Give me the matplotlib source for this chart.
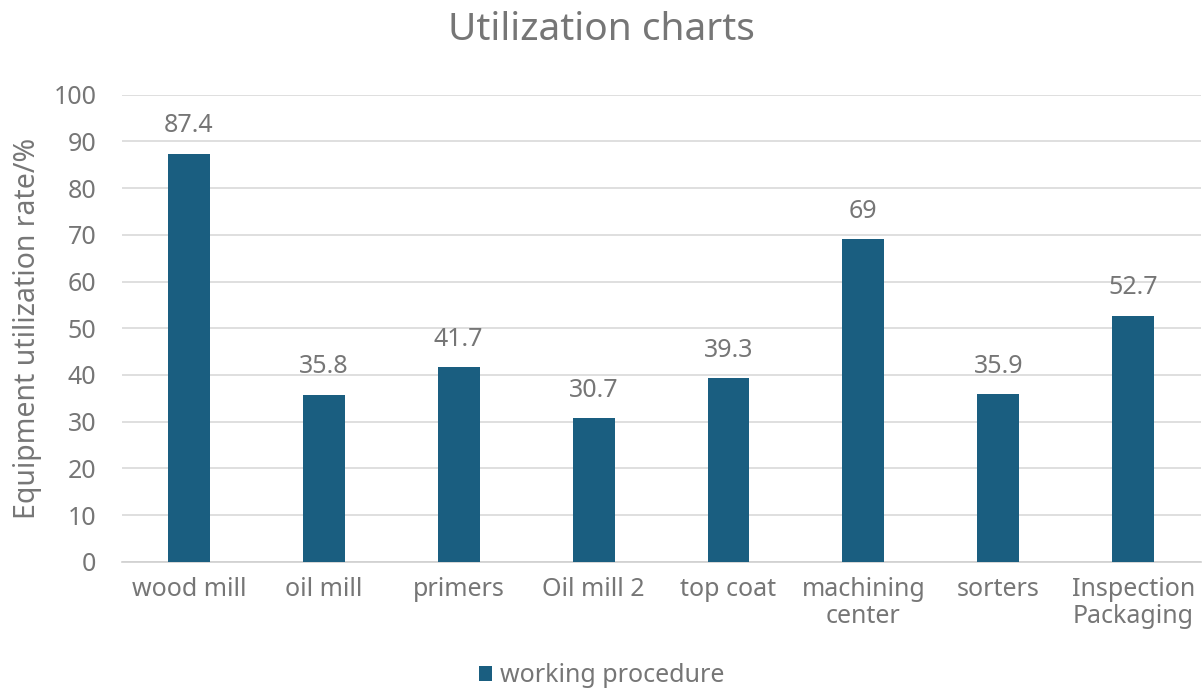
import matplotlib.pyplot as plt

categories = ["wood mill", "oil mill", "primers", "Oil mill 2", "top coat",
              "machining\ncenter", "sorters", "Inspection\nPackaging"]
values = [87.4, 35.8, 41.7, 30.7, 39.3, 69, 35.9, 52.7]
value_labels = ["87.4", "35.8", "41.7", "30.7", "39.3", "69", "35.9", "52.7"]

plt.rcParams['font.family'] = ['Noto Sans', 'DejaVu Sans']
text_color = "#767676"
bar_color = "#1a5e80"

fig = plt.figure(figsize=(12.03, 6.91), dpi=100)
ax = fig.add_axes([0.101, 0.187, 0.897, 0.676])

x = range(len(categories))
bars = ax.bar(x, values, width=0.31, color=bar_color, label="working procedure", zorder=3)
for b, lab in zip(bars, value_labels):
    ax.annotate(lab, (b.get_x() + b.get_width() / 2, b.get_height()),
                xytext=(0, 11), textcoords="offset points",
                ha="center", va="bottom", fontsize=18, color=text_color)

ax.set_xlim(-0.5, len(categories) - 0.5)
ax.set_ylim(0, 100)
ax.set_yticks(range(0, 101, 10))
ax.set_xticks(list(x))
ax.set_xticklabels(categories, linespacing=1.1)
ax.tick_params(axis="both", length=0, colors=text_color, labelsize=18)
ax.tick_params(axis="x", pad=11)
ax.tick_params(axis="y", pad=18)
ax.grid(axis="y", color="#d9d9d9", linewidth=1.2, zorder=0)
for s in ["top", "right", "left"]:
    ax.spines[s].set_visible(False)
ax.spines["bottom"].set_color("#d0d0d0")
ax.spines["bottom"].set_linewidth(1.2)

ax.set_ylabel("Equipment utilization rate/%", fontsize=20.5, color=text_color, labelpad=8)
fig.text(0.5, 0.957, "Utilization charts", fontsize=28, color=text_color,
         ha="center", va="center")

fig.legend(loc="center", bbox_to_anchor=(0.5, 0.022), frameon=False,
           fontsize=18, labelcolor=text_color, handlelength=0.55, handleheight=0.55,
           handletextpad=0.3)

fig.savefig("out.png", dpi=100)
